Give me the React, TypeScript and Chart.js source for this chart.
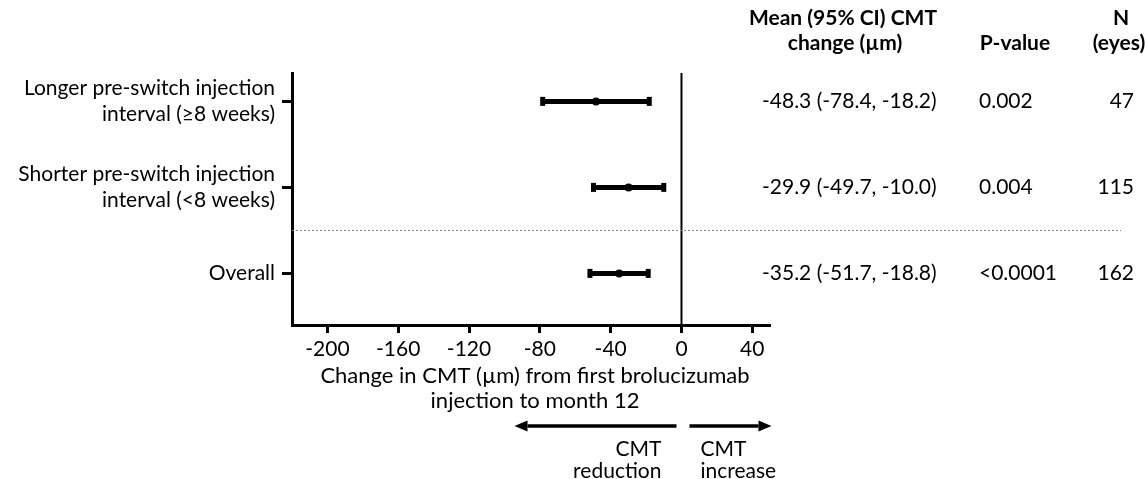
import React, { useEffect, useRef } from 'react';
import { Chart, registerables } from 'chart.js';
Chart.register(...registerables);

const categories: string[][] = [
  ['Longer pre-switch injection', 'interval (≥8 weeks)'],
  ['Shorter pre-switch injection', 'interval (<8 weeks)'],
  ['Overall'],
];
const means = [-48.3, -29.9, -35.2];
const lows = [-78.4, -49.7, -51.7];
const highs = [-18.2, -10.0, -18.8];
const ciText = ['-48.3 (-78.4, -18.2)', '-29.9 (-49.7, -10.0)', '-35.2 (-51.7, -18.8)'];
const pValues = ['0.002', '0.004', '<0.0001'];
const nEyes = ['47', '115', '162'];
const xTicks = [-200, -160, -120, -80, -40, 0, 40];
const xTitle = ['Change in CMT (µm) from first brolucizumab', 'injection to month 12'];
const headerCI = ['Mean (95% CI) CMT', 'change (µm)'];
const headerP = 'P-value';
const headerN = ['N', '(eyes)'];
const arrowLeft = ['CMT', 'reduction'];
const arrowRight = ['CMT', 'increase'];

const FONT = 'Lato';
const FS = 21;

function arrow(ctx: CanvasRenderingContext2D, x1: number, x2: number, y: number) {
  const dir = x2 > x1 ? 1 : -1;
  const headLen = 13;
  ctx.beginPath();
  ctx.moveTo(x1, y);
  ctx.lineTo(x2 - dir * headLen, y);
  ctx.lineWidth = 3.5;
  ctx.stroke();
  ctx.beginPath();
  ctx.moveTo(x2, y);
  ctx.lineTo(x2 - dir * headLen, y - 5.5);
  ctx.lineTo(x2 - dir * headLen, y + 5.5);
  ctx.closePath();
  ctx.fill();
}

const overlay = {
  id: 'overlay',
  beforeDatasetsDraw(chart: any) {
    const { ctx, chartArea, scales } = chart;
    const x = scales.x, y = scales.y;
    ctx.save();
    const x0 = x.getPixelForValue(0);
    ctx.strokeStyle = '#000';
    ctx.lineWidth = 2;
    ctx.beginPath();
    ctx.moveTo(x0, chartArea.top);
    ctx.lineTo(x0, chartArea.bottom);
    ctx.stroke();
    const yd = Math.round(y.getPixelForValue(1.5)) + 0.5;
    ctx.setLineDash([2, 2]);
    ctx.strokeStyle = '#808080';
    ctx.lineWidth = 1;
    ctx.beginPath();
    ctx.moveTo(chartArea.left, yd);
    ctx.lineTo(1121, yd);
    ctx.stroke();
    ctx.restore();
  },
  afterDraw(chart: any) {
    const { ctx, scales } = chart;
    const x = scales.x, y = scales.y;
    ctx.save();
    ctx.fillStyle = '#000';
    ctx.strokeStyle = '#000';
    ctx.textBaseline = 'middle';
    ctx.font = `bold ${FS}px ${FONT}`;
    ctx.textAlign = 'center';
    ctx.fillText(headerCI[0], 843, 18);
    ctx.fillText(headerCI[1], 845, 43);
    ctx.fillText(headerP, 1015, 43);
    ctx.fillText(headerN[0], 1121, 18);
    ctx.fillText(headerN[1], 1119, 43);
    ctx.font = `${FS}px ${FONT}`;
    for (let i = 0; i < ciText.length; i++) {
      const py = y.getPixelForValue(i);
      ctx.textAlign = 'left';
      ctx.fillText(ciText[i], 762, py);
      ctx.fillText(pValues[i], 979, py);
      ctx.textAlign = 'right';
      ctx.fillText(nEyes[i], 1134, py);
    }
    ctx.textAlign = 'center';
    ctx.font = `${FS + 1}px ${FONT}`;
    ctx.fillText(xTitle[0], 535, 376);
    ctx.fillText(xTitle[1], 535, 401);
    ctx.font = `${FS}px ${FONT}`;
    const x0 = x.getPixelForValue(0);
    arrow(ctx, x0 - 5, x0 - 167, 426);
    arrow(ctx, x0 + 8, x0 + 90, 426);
    ctx.textAlign = 'right';
    ctx.fillText(arrowLeft[0], x0 - 20, 449);
    ctx.fillText(arrowLeft[1], x0 - 20, 471);
    ctx.textAlign = 'left';
    ctx.fillText(arrowRight[0], x0 + 19, 449);
    ctx.fillText(arrowRight[1], x0 + 19, 471);
    ctx.restore();
  },
};

export default function App() {
  const ref = useRef<HTMLCanvasElement | null>(null);
  useEffect(() => {
    if (!ref.current) return;
    const ciSets = means.map((_, i) => ({
      data: [
        { x: lows[i], y: i },
        { x: highs[i], y: i },
      ],
      showLine: true,
      borderColor: '#000',
      borderWidth: 5,
      pointStyle: 'line',
      pointRotation: 90,
      pointRadius: 4.5,
      pointBorderWidth: 5,
      pointBorderColor: '#000',
      pointBackgroundColor: '#000',
      order: 1,
    }));
    const meanSet = {
      data: means.map((m, i) => ({ x: m, y: i })),
      pointRadius: 4,
      pointBackgroundColor: '#000',
      pointBorderColor: '#000',
      pointBorderWidth: 0,
      showLine: false,
      order: 0,
    };
    const chart = new Chart(ref.current, {
      type: 'scatter',
      data: { datasets: [meanSet as any, ...(ciSets as any)] },
      plugins: [overlay],
      options: {
        animation: false,
        responsive: false,
        events: [],
        layout: { padding: { left: 0, top: 73, right: 375, bottom: 0 } },
        plugins: { legend: { display: false }, tooltip: { enabled: false } },
        scales: {
          x: {
            type: 'linear',
            min: -220,
            max: 50,
            afterBuildTicks: (s: any) => {
              s.ticks = xTicks.map((v) => ({ value: v }));
            },
            afterFit: (s: any) => {
              s.height = 154;
            },
            grid: {
              drawOnChartArea: false,
              drawTicks: true,
              tickLength: 8,
              tickWidth: 3,
              tickColor: '#000',
            },
            border: { display: true, width: 3, color: '#000' },
            ticks: {
              autoSkip: false,
              maxRotation: 0,
              padding: 4,
              color: '#000',
              font: { family: FONT, size: FS },
            },
          },
          y: {
            type: 'linear',
            reverse: true,
            min: -0.33,
            max: 2.6,
            afterBuildTicks: (s: any) => {
              s.ticks = categories.map((_, i) => ({ value: i }));
            },
            afterFit: (s: any) => {
              s.width = 292;
            },
            grid: {
              drawOnChartArea: false,
              drawTicks: true,
              tickLength: 10,
              tickWidth: 3,
              tickColor: '#000',
            },
            border: { display: true, width: 3, color: '#000' },
            ticks: {
              autoSkip: false,
              padding: 7,
              color: '#000',
              font: { family: FONT, size: FS, lineHeight: 1.24 },
              callback: (v: any) => categories[v as number] ?? '',
            },
          },
        },
      },
    });
    return () => chart.destroy();
  }, []);
  return (
    <div style={{ position: 'absolute', left: 0, top: 0, width: 1145, height: 479, background: '#fff' }}>
      <canvas ref={ref} width={1145} height={479} style={{ display: 'block' }} />
    </div>
  );
}
